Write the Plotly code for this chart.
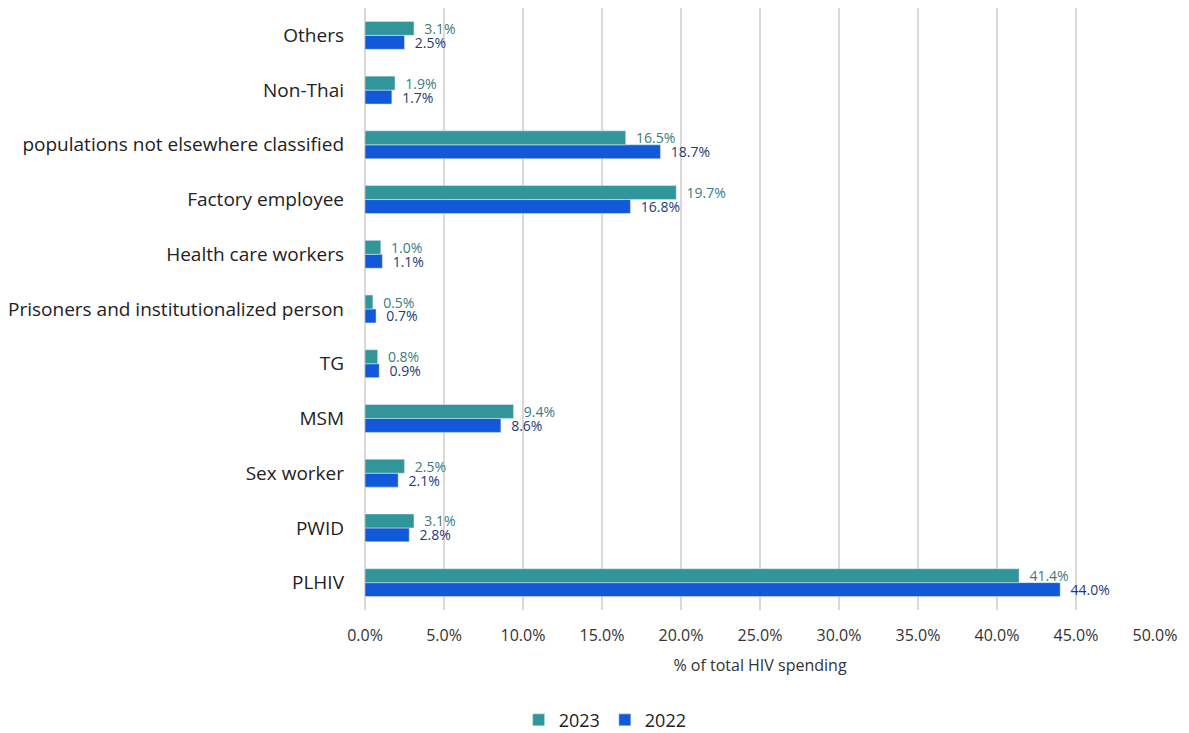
import plotly.graph_objects as go

categories = ["PLHIV", "PWID", "Sex worker", "MSM", "TG",
              "Prisoners and institutionalized person", "Health care workers",
              "Factory employee", "populations not elsewhere classified",
              "Non-Thai", "Others"]
v2023 = [41.4, 3.1, 2.5, 9.4, 0.8, 0.5, 1.0, 19.7, 16.5, 1.9, 3.1]
v2022 = [44.0, 2.8, 2.1, 8.6, 0.9, 0.7, 1.1, 16.8, 18.7, 1.7, 2.5]
xticks = [0, 5, 10, 15, 20, 25, 30, 35, 40, 45, 50]

FONT = "Open Sans"
PAD = "\u00a0\u00a0"

fig = go.Figure()
fig.add_trace(go.Bar(
    y=categories, x=v2022, orientation="h", name="2022",
    marker=dict(color="#1259D9"),
    text=[f"{PAD}{v:.1f}%" for v in v2022], textposition="outside",
    constraintext="none",
    textfont=dict(color="#1F3A78", size=14, family=FONT),
    cliponaxis=False,
))
fig.add_trace(go.Bar(
    y=categories, x=v2023, orientation="h", name="2023",
    marker=dict(color="#31969A"),
    text=[f"{PAD}{v:.1f}%" for v in v2023], textposition="outside",
    constraintext="none",
    textfont=dict(color="#3B7C7E", size=14, family=FONT),
    cliponaxis=False,
))

fig.update_layout(
    width=1189, height=733,
    paper_bgcolor="white", plot_bgcolor="white",
    barmode="group", bargap=0.49, bargroupgap=0,
    margin=dict(l=357, r=42, t=0, b=131, autoexpand=False),
    font=dict(family=FONT, color="#222222"),
    xaxis=dict(
        range=[0, 50], tickvals=xticks,
        ticktext=[f"{t:.1f}%" for t in xticks],
        showgrid=True, gridcolor="#D9D9D9", gridwidth=2,
        zeroline=True, zerolinecolor="#D9D9D9", zerolinewidth=2,
        tickfont=dict(size=16, color="#333333"),
        ticks="", ticklen=0, automargin=False, ticklabelstandoff=14,
        title=dict(text="% of total HIV spending", font=dict(size=16, color="#333333"), standoff=14),
        showline=False,
    ),
    yaxis=dict(
        tickfont=dict(size=19, color="#222222"),
        ticks="", ticklabelstandoff=20, showline=False, automargin=False,
    ),
    legend=dict(orientation="h", x=0.304, xanchor="center", y=-0.183, yanchor="middle",
                traceorder="reversed", font=dict(size=18, color="#222222")),
    showlegend=True,
)

fig.write_html("out.html")
